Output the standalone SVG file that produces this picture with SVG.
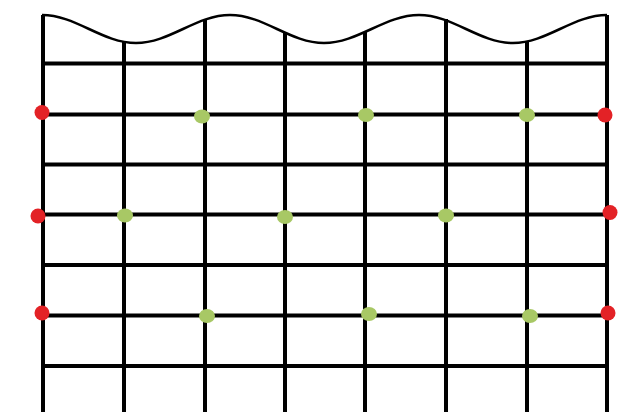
<svg xmlns="http://www.w3.org/2000/svg" width="634" height="412" viewBox="0 0 634 412">
<style>
.ln{stroke:#000;stroke-width:4;fill:none}
.wave{stroke:#000;stroke-width:2.5;fill:none}
.red{fill:#E32226}
.grn{fill:#A8C865}
</style>
<rect width="634" height="412" fill="#fff"/>
<g id="net">
<path class="wave" d="M42,15 C76,15 102,43 136,43 C170,43 196,15 230,15 C264,15 290,43 324,43 C358,43 385,15 419,15 C453,15 479,43 513,43 C547,43 573,15 607,15"/>
<g id="verticals">
<line class="ln" x1="43" y1="15" x2="43" y2="412"/>
<line class="ln" x1="124" y1="42" x2="124" y2="412"/>
<line class="ln" x1="205" y1="19" x2="205" y2="412"/>
<line class="ln" x1="285" y1="33" x2="285" y2="412"/>
<line class="ln" x1="365" y1="32" x2="365" y2="412"/>
<line class="ln" x1="446" y1="19" x2="446" y2="412"/>
<line class="ln" x1="527" y1="42" x2="527" y2="412"/>
<line class="ln" x1="607" y1="15" x2="607" y2="412"/>
</g>
<g id="horizontals">
<line class="ln" x1="43" y1="63.5" x2="609" y2="63.5"/>
<line class="ln" x1="43" y1="114.5" x2="609" y2="114.5"/>
<line class="ln" x1="43" y1="164.5" x2="609" y2="164.5"/>
<line class="ln" x1="43" y1="214.5" x2="609" y2="214.5"/>
<line class="ln" x1="43" y1="265" x2="609" y2="265"/>
<line class="ln" x1="43" y1="315.5" x2="609" y2="315.5"/>
<line class="ln" x1="43" y1="366" x2="609" y2="366"/>
</g>
</g>
<g id="dots">
<circle class="red" cx="42" cy="112.5" r="7.5"/>
<ellipse class="grn" cx="202" cy="116.5" rx="8" ry="7"/>
<ellipse class="grn" cx="366" cy="115" rx="8" ry="7"/>
<ellipse class="grn" cx="527" cy="115" rx="8" ry="7"/>
<circle class="red" cx="605" cy="115" r="7.5"/>
<circle class="red" cx="38" cy="216" r="7.5"/>
<ellipse class="grn" cx="125" cy="215.5" rx="8" ry="7"/>
<ellipse class="grn" cx="285" cy="217" rx="8" ry="7"/>
<ellipse class="grn" cx="446" cy="215.5" rx="8" ry="7"/>
<circle class="red" cx="610" cy="212.5" r="7.5"/>
<circle class="red" cx="42" cy="313" r="7.5"/>
<ellipse class="grn" cx="207" cy="316" rx="8" ry="7"/>
<ellipse class="grn" cx="369" cy="314" rx="8" ry="7"/>
<ellipse class="grn" cx="530" cy="316" rx="8" ry="7"/>
<circle class="red" cx="608" cy="313" r="7.5"/>
</g>
</svg>
